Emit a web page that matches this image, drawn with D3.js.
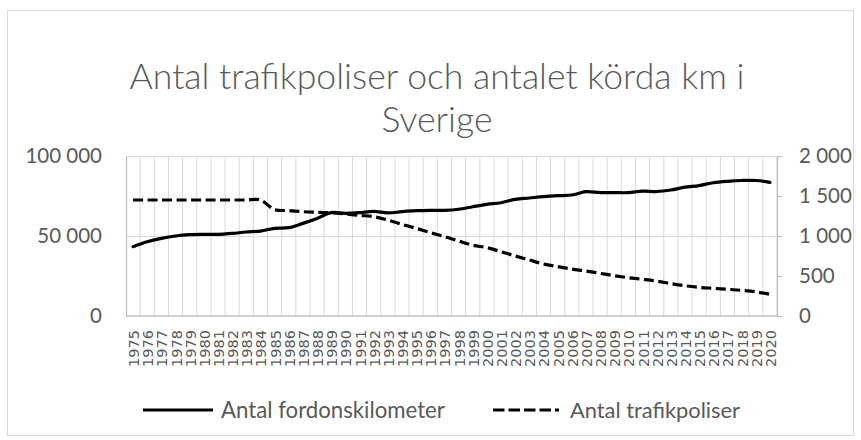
<!DOCTYPE html>
<html lang="sv">
<head>
<meta charset="UTF-8">
<title>Antal trafikpoliser och antalet körda km i Sverige</title>
<script src="https://d3js.org/d3.v7.min.js"></script>
<style>
  html, body { margin: 0; padding: 0; background: #fff; }
  svg { display: block; font-family: 'Lato', 'Open Sans', sans-serif; }
</style>
</head>
<body>
<svg id="chart" width="861" height="440"></svg>
<script>
// --- Data ---
const years = [1975, 1976, 1977, 1978, 1979, 1980, 1981, 1982, 1983, 1984,
  1985, 1986, 1987, 1988, 1989, 1990, 1991, 1992, 1993, 1994,
  1995, 1996, 1997, 1998, 1999, 2000, 2001, 2002, 2003, 2004,
  2005, 2006, 2007, 2008, 2009, 2010, 2011, 2012, 2013, 2014,
  2015, 2016, 2017, 2018, 2019, 2020];

// Antal fordonskilometer (left axis)
const fordonskm = [43300, 46400, 48500, 50000, 50800, 51000, 51000, 51600, 52500, 53100,
  54800, 55200, 57900, 61000, 64600, 64200, 64600, 65400, 64400, 65200,
  65800, 66000, 66000, 66700, 68300, 69800, 70800, 72900, 73750, 74600,
  75200, 75600, 77700, 77100, 77100, 77100, 78000, 77800, 78750, 80500,
  81500, 83300, 84200, 84700, 84700, 83500];

// Antal trafikpoliser (right axis)
const poliser = [1450, 1450, 1450, 1450, 1450, 1450, 1450, 1450, 1450, 1450,
  1330, 1318, 1304, 1296, 1290, 1275, 1258, 1242, 1200, 1146,
  1096, 1042, 992, 937, 885, 854, 804, 750, 700, 650,
  617, 587, 562, 533, 504, 479, 458, 435, 405, 378,
  358, 346, 334, 320, 302, 271];

const leftTicks = [0, 50000, 100000];
const rightTicks = [0, 500, 1000, 1500, 2000];
const titleLines = ["Antal trafikpoliser och antalet körda km i", "Sverige"];
const seriesNames = ["Antal fordonskilometer", "Antal trafikpoliser"];

// --- Setup ---
const svg = d3.select("#chart");
const textColor = "#595959";
const gridColor = "#d9d9d9";
const axisColor = "#bfbfbf";

const plot = { left: 126, right: 777, top: 156, bottom: 316 };

const x = d3.scaleBand().domain(years).range([plot.left, plot.right]);
const yL = d3.scaleLinear().domain([0, 100000]).range([plot.bottom, plot.top]);
const yR = d3.scaleLinear().domain([0, 2000]).range([plot.bottom, plot.top]);

const sv = d3.formatLocale({ decimal: ",", thousands: " ", grouping: [3], currency: ["", ""] });
const fmt = sv.format(",");

// fit a text element's font size to a target width
function fitWidth(sel, w) {
  sel.style("font-size", "100px");
  const len = sel.node().getComputedTextLength();
  sel.style("font-size", (100 * w / len) + "px");
}

// chart border
svg.append("rect")
  .attr("x", 7.5).attr("y", 10.5)
  .attr("width", 846).attr("height", 425)
  .attr("fill", "#fff").attr("stroke", gridColor);

// title
const title = svg.append("g").attr("fill", textColor).attr("text-anchor", "middle")
  .style("font-weight", 300);
const t1 = title.append("text").attr("x", 437).attr("y", 89).text(titleLines[0]);
fitWidth(t1, 615);
title.append("text").attr("x", 437).attr("y", 132)
  .style("font-size", t1.style("font-size")).text(titleLines[1]);

// gridlines
const grid = svg.append("g").attr("stroke", gridColor).attr("stroke-width", 1);
grid.selectAll("line.h").data(leftTicks.slice(1)).join("line")
  .attr("x1", plot.left).attr("x2", plot.right)
  .attr("y1", d => Math.round(yL(d)) + 0.5).attr("y2", d => Math.round(yL(d)) + 0.5);
grid.selectAll("line.v").data(years.slice(1).map(d => x(d)).concat([plot.right])).join("line")
  .attr("x1", d => d).attr("x2", d => d)
  .attr("y1", plot.top).attr("y2", plot.bottom);

// axes
const axL = svg.append("g").attr("transform", `translate(${plot.left},0)`)
  .call(d3.axisLeft(yL).tickValues(leftTicks).tickSize(0).tickPadding(24).tickFormat(fmt));
const axR = svg.append("g").attr("transform", `translate(${plot.right},0)`)
  .call(d3.axisRight(yR).tickValues(rightTicks).tickSizeInner(5).tickSizeOuter(0).tickPadding(17).tickFormat(fmt));
[axL, axR].forEach(a => {
  a.select(".domain").attr("stroke", axisColor).attr("stroke-width", 1.3);
  a.selectAll(".tick line").attr("stroke", axisColor).attr("stroke-width", 1.3);
  a.selectAll(".tick text").attr("fill", textColor)
    .style("font-family", "'Lato', sans-serif").style("font-size", "20.5px");
});

// bottom axis line
svg.append("line")
  .attr("x1", plot.left).attr("x2", plot.right)
  .attr("y1", plot.bottom).attr("y2", plot.bottom)
  .attr("stroke", axisColor).attr("stroke-width", 1.3);

// year labels
svg.append("g").selectAll("text").data(years).join("text")
  .attr("transform", d => `translate(${x(d) + x.bandwidth() / 2 + 6},330) rotate(-90)`)
  .attr("text-anchor", "end")
  .attr("fill", textColor)
  .style("font-family", "'DejaVu Sans', sans-serif")
  .style("font-size", "14.5px")
  .text(d => d);

// lines
const cx = d => x(d) + x.bandwidth() / 2;
const lineL = d3.line().x((d, i) => cx(years[i])).y(d => yL(d)).curve(d3.curveCatmullRom.alpha(0.5));
const lineR = d3.line().x((d, i) => cx(years[i])).y(d => yR(d)).curve(d3.curveCatmullRom.alpha(0.5));

svg.append("path").datum(fordonskm)
  .attr("d", lineL).attr("fill", "none")
  .attr("stroke", "#000").attr("stroke-width", 3.2).attr("stroke-linejoin", "round").attr("stroke-linecap", "round");
svg.append("path").datum(poliser)
  .attr("d", lineR).attr("fill", "none")
  .attr("stroke", "#000").attr("stroke-width", 3.2).attr("stroke-dasharray", "10,4.5");

// legend
const legY = 410;
const leg = svg.append("g");
leg.append("line").attr("x1", 143).attr("x2", 213).attr("y1", legY).attr("y2", legY)
  .attr("stroke", "#000").attr("stroke-width", 3.2);
const lt1 = leg.append("text").attr("x", 221).attr("y", legY).attr("dy", "0.35em")
  .attr("fill", textColor).text(seriesNames[0]);
fitWidth(lt1, 224);
leg.append("line").attr("x1", 493).attr("x2", 559).attr("y1", legY).attr("y2", legY)
  .attr("stroke", "#000").attr("stroke-width", 3.2).attr("stroke-dasharray", "11.5,4");
const lt2 = leg.append("text").attr("x", 570).attr("y", legY).attr("dy", "0.35em")
  .attr("fill", textColor).text(seriesNames[1]);
fitWidth(lt2, 170);
</script>
</body>
</html>
